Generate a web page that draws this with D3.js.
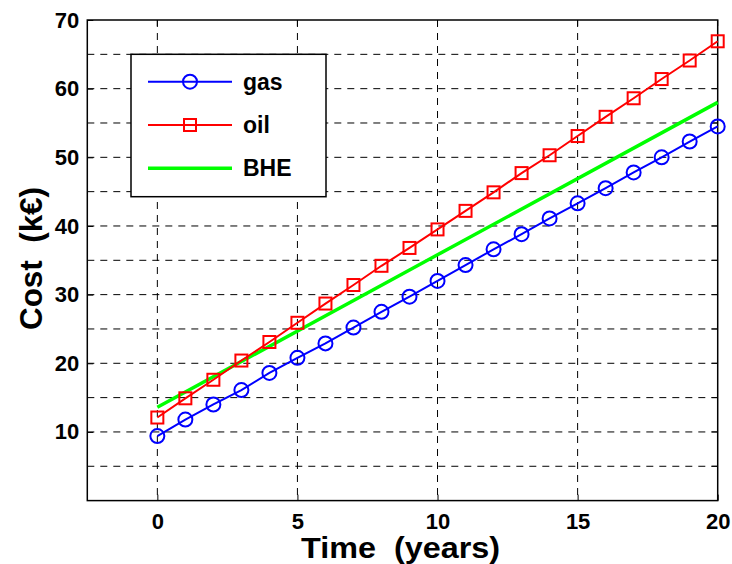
<!DOCTYPE html>
<html><head><meta charset="utf-8">
<script src="https://cdn.jsdelivr.net/npm/d3@7"></script>
<style>body{margin:0;background:#fff}svg{display:block}text{font-family:Arial,"Liberation Sans",sans-serif;font-weight:bold;white-space:pre}</style>
</head><body><svg id="c" width="732" height="564"></svg>
<script>
const years = d3.range(0, 21);
const gas = [9.4,11.8,14.0,16.1,18.6,20.8,22.9,25.2,27.5,29.7,32.0,34.3,36.6,38.8,41.1,43.3,45.5,47.8,50.0,52.3,54.5];
const oil = [12.1,14.9,17.6,20.4,23.1,25.9,28.7,31.4,34.2,36.8,39.5,42.2,44.9,47.7,50.3,53.1,55.9,58.6,61.4,64.1,66.9];
const bheYears = [0, 10, 20];
const bhe = [13.6, 35.8, 58.0];
const xTicks = [0, 5, 10, 15, 20];
const yTicks = [10, 20, 30, 40, 50, 60, 70];
const yGrid = [5,10,15,20,25,30,35,40,45,50,55,60,65];
const legendLabels = ["gas", "oil", "BHE"];

const svg = d3.select("#c");
const L = 87.3, R = 717.7, T = 20, B = 500.6;
const x = d3.scaleLinear().domain([-2.5, 20]).range([L, R]);
const y = d3.scaleLinear().domain([0, 70]).range([B, T]);

// grid
const g = svg.append("g");
g.selectAll(".hg").data(yGrid).join("line")
  .attr("x1", L).attr("x2", R).attr("y1", d => y(d)).attr("y2", d => y(d))
  .attr("stroke", "#000").attr("stroke-width", 1).attr("stroke-dasharray", "7,6");
g.selectAll(".vg").data(xTicks.slice(0, 4)).join("line")
  .attr("x1", d => x(d)).attr("x2", d => x(d)).attr("y1", T).attr("y2", B)
  .attr("stroke", "#000").attr("stroke-width", 1).attr("stroke-dasharray", "7,6");

// right/top inner ticks
g.selectAll(".rt").data(yGrid).join("line")
  .attr("x1", R - 6).attr("x2", R).attr("y1", d => y(d)).attr("y2", d => y(d))
  .attr("stroke", "#000").attr("stroke-width", 1);
g.selectAll(".tt").data(xTicks).join("line")
  .attr("x1", d => x(d)).attr("x2", d => x(d)).attr("y1", T).attr("y2", T + 6)
  .attr("stroke", "#000").attr("stroke-width", 1);

// axes
const xa = svg.append("g").attr("transform", `translate(0,${B})`)
  .call(d3.axisBottom(x).tickValues(xTicks).tickSize(-6).tickPadding(13).tickFormat(d3.format("d")));
const ya = svg.append("g").attr("transform", `translate(${L},0)`)
  .call(d3.axisLeft(y).tickValues(yTicks).tickSize(-6).tickPadding(8).tickFormat(d3.format("d")));
[xa, ya].forEach(a => {
  a.select(".domain").remove();
  a.selectAll("text").attr("font-size", 22).attr("fill", "#000").style("font-weight", "bold");
  a.selectAll("line").attr("stroke", "#000");
});
svg.append("rect").attr("x", L).attr("y", T).attr("width", R - L).attr("height", B - T)
  .attr("fill", "none").attr("stroke", "#000").attr("stroke-width", 1.5);

// lines
const line = d3.line().x(d => x(d[0])).y(d => y(d[1]));
svg.append("path").datum(bheYears.map((t, i) => [t, bhe[i]]))
  .attr("d", line).attr("fill", "none").attr("stroke", "#00ff00").attr("stroke-width", 3.5);
svg.append("path").datum(years.map((t, i) => [t, oil[i]]))
  .attr("d", line).attr("fill", "none").attr("stroke", "#ff0000").attr("stroke-width", 2);
svg.append("path").datum(years.map((t, i) => [t, gas[i]]))
  .attr("d", line).attr("fill", "none").attr("stroke", "#0000ff").attr("stroke-width", 2);
svg.append("g").selectAll("rect").data(years).join("rect")
  .attr("x", (d) => x(d) - 6).attr("y", (d, i) => y(oil[i]) - 6).attr("width", 12).attr("height", 12)
  .attr("fill", "none").attr("stroke", "#ff0000").attr("stroke-width", 2);
svg.append("g").selectAll("circle").data(years).join("circle")
  .attr("cx", d => x(d)).attr("cy", (d, i) => y(gas[i])).attr("r", 7)
  .attr("fill", "none").attr("stroke", "#0000ff").attr("stroke-width", 2);

// legend
const lg = svg.append("g");
lg.append("rect").attr("x", 131).attr("y", 54.3).attr("width", 195).attr("height", 142.4)
  .attr("fill", "#fff").attr("stroke", "#000").attr("stroke-width", 1.5);
const ly = [81.7, 125, 168.3];
const cols = ["#0000ff", "#ff0000", "#00ff00"];
legendLabels.forEach((lab, i) => {
  lg.append("line").attr("x1", 148).attr("x2", 232).attr("y1", ly[i]).attr("y2", ly[i])
    .attr("stroke", cols[i]).attr("stroke-width", i === 2 ? 3.5 : 2);
  lg.append("text").attr("x", 243).attr("y", ly[i]).attr("dy", "0.35em")
    .attr("font-size", 23).text(lab);
});
lg.append("circle").attr("cx", 190).attr("cy", ly[0]).attr("r", 7)
  .attr("fill", "none").attr("stroke", "#0000ff").attr("stroke-width", 2);
lg.append("rect").attr("x", 184).attr("y", ly[1] - 6).attr("width", 12).attr("height", 12)
  .attr("fill", "none").attr("stroke", "#ff0000").attr("stroke-width", 2);

// axis titles
svg.append("text").attr("x", 301).attr("y", 558).attr("font-size", 29)
  .attr("textLength", 199).attr("lengthAdjust", "spacingAndGlyphs").text("Time  (years)");
svg.append("text").attr("transform", "translate(42,330) rotate(-90)").attr("font-size", 31)
  .attr("textLength", 143).attr("lengthAdjust", "spacingAndGlyphs").text("Cost  (k€)");
</script></body></html>
